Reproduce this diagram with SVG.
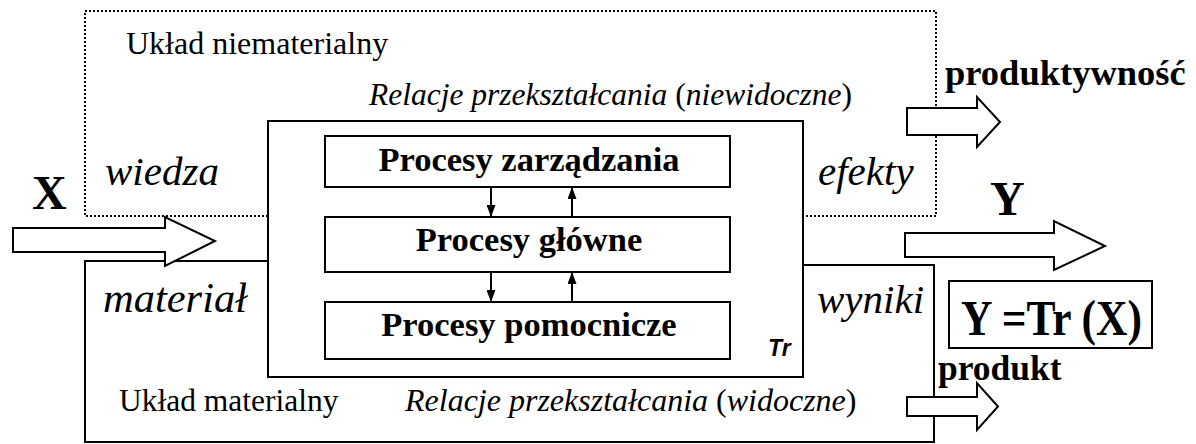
<svg xmlns="http://www.w3.org/2000/svg" width="1196" height="444" viewBox="0 0 1196 444">
  <defs>
    <marker id="head" viewBox="0 0 12 9" refX="12" refY="4.5" markerWidth="12" markerHeight="9" markerUnits="userSpaceOnUse" orient="auto">
      <path d="M0,0 L12,4.5 L0,9 Z" fill="#000"/>
    </marker>
  </defs>
  <style>
    .serif { font-family: "Liberation Serif", "Times New Roman", "DejaVu Serif", serif; fill: #000; }
    .sans { font-family: "Liberation Sans", Arial, sans-serif; fill: #000; }
    .it { font-style: italic; }
    .up { font-style: normal; }
    .b { font-weight: bold; }
    .box { fill: none; stroke: #000; stroke-width: 2; }
    .panel { fill: #fff; stroke: #000; stroke-width: 2; }
    .dotted { fill: none; stroke: #000; stroke-width: 2; stroke-dasharray: 2 2; }
    .block { fill: #fff; stroke: #000; stroke-width: 2; stroke-linejoin: miter; }
    .link { fill: none; stroke: #000; stroke-width: 2; }
  </style>

  <rect width="1196" height="444" fill="#fff"/>

  <!-- material system (outer solid frame) -->
  <g id="uklad-materialny">
    <path class="box" d="M268,261 H85 V442 H934 V265 H803"/>
    <text class="serif" x="119" y="411" font-size="31.5">Układ materialny</text>
    <text class="serif it" x="103" y="312" font-size="42.5">materiał</text>
    <text class="serif it" x="817" y="313" font-size="41">wyniki</text>
    <text class="serif it" x="405" y="411" font-size="32">Relacje przekształcania <tspan class="up">(</tspan>widoczne<tspan class="up">)</tspan></text>
  </g>

  <!-- non-material system (dotted frame) -->
  <g id="uklad-niematerialny">
    <rect class="dotted" x="85" y="11" width="851" height="205"/>
    <text class="serif" x="126" y="54" font-size="32">Układ niematerialny</text>
    <text class="serif it" x="105" y="185" font-size="41">wiedza</text>
    <text class="serif it" x="818" y="185" font-size="41">efekty</text>
    <text class="serif it" x="369" y="105" font-size="31.5">Relacje przekształcania <tspan class="up">(</tspan>niewidoczne<tspan class="up">)</tspan></text>
  </g>

  <!-- transformation Tr -->
  <g id="transformacja-tr">
    <rect class="panel" x="268" y="121" width="535" height="256"/>
    <text class="sans b it" x="768" y="356" font-size="23">Tr</text>
  </g>

  <g id="procesy-zarzadzania">
    <rect class="box" x="325" y="136" width="405" height="51"/>
    <text class="serif b" x="529" y="171" font-size="34.5" text-anchor="middle">Procesy zarządzania</text>
  </g>

  <g id="procesy-glowne">
    <rect class="box" x="325" y="217" width="405" height="55"/>
    <text class="serif b" x="529" y="251" font-size="34.5" text-anchor="middle">Procesy główne</text>
  </g>

  <g id="procesy-pomocnicze">
    <rect class="box" x="325" y="302" width="405" height="57"/>
    <text class="serif b" x="529" y="336" font-size="34.5" text-anchor="middle">Procesy pomocnicze</text>
  </g>

  <g id="wzor">
    <rect class="box" x="949" y="281" width="203" height="67"/>
    <text class="serif b" x="961" y="335" font-size="50" textLength="181" lengthAdjust="spacingAndGlyphs">Y =Tr (X)</text>
  </g>

  <!-- labels on flows -->
  <g id="etykiety">
    <text class="serif b" x="32" y="209" font-size="48">X</text>
    <text class="serif b" x="990" y="215" font-size="48">Y</text>
    <text class="serif b" x="945" y="85" font-size="36.5">produktywność</text>
    <text class="serif b" x="938" y="380" font-size="35.5">produkt</text>
  </g>

  <!-- connectors -->
  <g id="connectors">
    <line class="link" x1="491" y1="187" x2="491" y2="217" marker-end="url(#head)"/>
    <line class="link" x1="572" y1="217" x2="572" y2="187" marker-end="url(#head)"/>
    <line class="link" x1="491" y1="272" x2="491" y2="302" marker-end="url(#head)"/>
    <line class="link" x1="572" y1="302" x2="572" y2="272" marker-end="url(#head)"/>

    <path class="block" d="M13,228 H165 V217 L215,241 L165,266 V252 H13 Z"/>
    <path class="block" d="M905,233 H1054 V221 L1105,246 L1054,270 V257 H905 Z"/>
    <path class="block" d="M907,108 H977 V97 L1000,122 L977,147 V135 H907 Z"/>
    <path class="block" d="M907,397 H977 V383 L998,406.5 L977,430 V416 H907 Z"/>
  </g>
</svg>
